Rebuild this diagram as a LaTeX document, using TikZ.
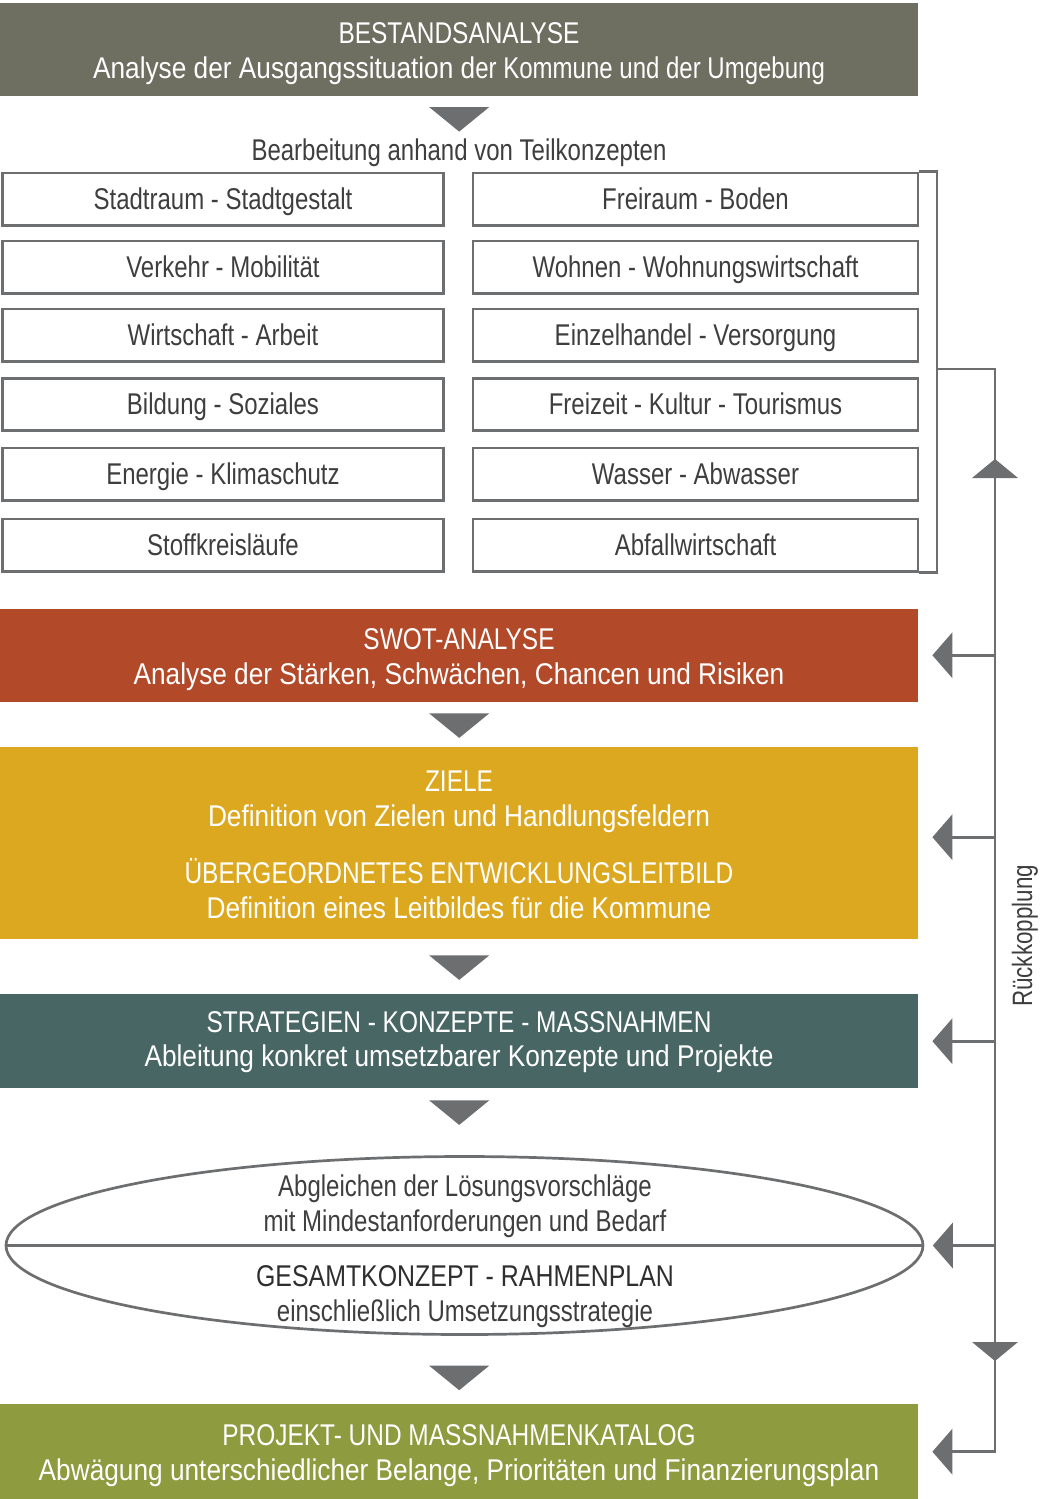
\documentclass[tikz,border=0pt]{standalone}
\usepackage{fontspec}
\setmainfont{Liberation Sans}
\newfontfamily\fgray{Liberation Sans}[FakeStretch=0.80]
\newfontfamily\fcaps{Liberation Sans}[FakeStretch=0.815]
\newfontfamily\fsub{Liberation Sans}[FakeStretch=0.875]
\newfontfamily\fgesamt{Liberation Sans}[FakeStretch=0.83]
\usetikzlibrary{calc,shapes.geometric}
\definecolor{cgraybox}{HTML}{6E6F61}
\definecolor{cred}{HTML}{B24A2A}
\definecolor{cyellow}{HTML}{DCA820}
\definecolor{cteal}{HTML}{476664}
\definecolor{cgreen}{HTML}{8E9B3E}
\definecolor{cline}{HTML}{6D6E70}
\definecolor{ctext}{HTML}{3E3E3E}
\newcommand\fsz{\fontsize{30}{36}\selectfont}
\newcommand\rsz{\fontsize{28}{34}\selectfont}
% downward flow triangle, #1 = centre of its top edge
\newcommand\dtri[1]{\fill[cline] #1 ++(-30,0) -- ++(60,0) -- ++(-30,24.5) -- cycle;}
% left-pointing feedback tip, #1 = tip point
\newcommand\ltri[1]{\fill[cline] #1 -- ++(20,-23) -- ++(0,46) -- cycle;}
\begin{document}
\begin{tikzpicture}[x=1pt,y=-1pt,
  band/.style={rectangle,inner sep=0pt,minimum width=918pt,anchor=north west,draw=none},
  wcap/.style={anchor=base,inner sep=0pt,text=white,font=\fcaps\fsz},
  wsub/.style={anchor=base,inner sep=0pt,text=white,font=\fsub\fsz},
  gtxt/.style={anchor=base,inner sep=0pt,text=ctext,font=\fgray\fsz},
  tk/.style={rectangle,draw=cline,line width=2.7pt,inner sep=0pt,minimum height=52.3pt,text height=21pt,text depth=1pt,text=ctext,font=\fgray\fsz},
  tkl/.style={tk,minimum width=441.3pt},
  tkr/.style={tk,minimum width=445pt},
  ln/.style={draw=cline,line width=2.7pt},
]
\useasboundingbox (0,0) rectangle (1043,1499);

% colored bands
\node[band,fill=cgraybox,minimum height=93.5pt] (bestand) at (0,2.5) {};
\node[band,fill=cred,minimum height=93.5pt] (swot) at (0,608.3) {};
\node[band,fill=cyellow,minimum height=192pt] (ziele) at (0,747) {};
\node[band,fill=cteal,minimum height=94pt] (strat) at (0,994) {};
\node[band,fill=cgreen,minimum height=95pt] (kat) at (0,1404) {};

% band texts
\node[wcap] (bestandA) at (459,43.5) {BESTANDSANALYSE};
\node[wsub] (bestandB) at (459,78) {Analyse der Ausgangssituation d{\fgray er Kommune und der Umgebung}};
\node[gtxt] (bearb) at (459,160) {Bearbeitung anhand von Teilkonzepten};
\node[wcap] (swotA) at (459,649.5) {SWOT-ANALYSE};
\node[wsub] (swotB) at (459,684) {Analyse der Stärken, Schwächen, Chancen und Risiken};
\node[wcap] (zieleA) at (459,791) {ZIELE};
\node[wsub] (zieleB) at (459,826) {Definition von Zielen und Handlungsfeldern};
\node[wcap] (zieleC) at (459,883) {ÜBERGEORDNETES ENTWICKLUNGSLEITBILD};
\node[wsub] (zieleD) at (459,918.5) {Definition eines Leitbildes für die Kommune};
\node[wcap] (stratA) at (459,1032) {STRATEGIEN - KONZEPTE - MASSNAHMEN};
\node[wsub] (stratB) at (459,1066.5) {Ableitung konkret umsetzbarer Konzepte und Projekte};
\node[wcap] (katA) at (459,1445.5) {PROJEKT- UND MASSNAHMENKATALOG};
\node[wsub] (katB) at (459,1480) {Abwägung unterschiedlicher Belange, Prioritäten und Finanzierungsplan};

% Teilkonzepte
\node[tkl] (l1) at (223,199.2) {Stadtraum - Stadtgestalt};
\node[tkl] (l2) at (223,267) {Verkehr - Mobilität};
\node[tkl] (l3) at (223,335) {Wirtschaft - Arbeit};
\node[tkl] (l4) at (223,404.5) {Bildung - Soziales};
\node[tkl] (l5) at (223,474) {Energie - Klimaschutz};
\node[tkl] (l6) at (223,545) {Stoffkreisläufe};
\node[tkr] (r1) at (695.5,199.2) {Freiraum - Boden};
\node[tkr] (r2) at (695.5,267) {Wohnen - Wohnungswirtschaft};
\node[tkr] (r3) at (695.5,335) {Einzelhandel - Versorgung};
\node[tkr] (r4) at (695.5,404.5) {Freizeit - Kultur - Tourismus};
\node[tkr] (r5) at (695.5,474) {Wasser - Abwasser};
\node[tkr] (r6) at (695.5,545) {Abfallwirtschaft};

% ellipse
\node[ellipse,draw=cline,line width=2.7pt,inner sep=0pt,minimum width=917pt,minimum height=178pt] (ell) at (464.5,1245.5) {};
\draw[ln] (ell.west) -- (ell.east);
\node[gtxt] (ellA) at (465,1196.7) {Abgleichen der Lösungsvorschläge};
\node[gtxt] (ellB) at (465,1231.5) {mit Mindestanforderungen und Bedarf};
\node[gtxt,font=\fgesamt\fsz,text=black!82] (ellC) at (465,1286.5) {GESAMTKONZEPT - RAHMENPLAN};
\node[gtxt] (ellD) at (465,1321) {einschließlich Umsetzungsstrategie};

% flow triangles
\dtri{($(bestand.south)+(0,10.7)$)}
\dtri{($(swot.south)+(0,11.2)$)}
\dtri{($(ziele.south)+(0,16)$)}
\dtri{($(strat.south)+(0,12)$)}
\dtri{($(kat.north)+(0,-38.3)$)}

% feedback loop
\coordinate (brk) at (937,369);
\coordinate (fbtop) at (995,369);
\path ([yshift=6pt]ziele.east) coordinate (zE);
\draw[ln] (r1.north east) -- (r1.north east -| brk) -- (r6.south east -| brk) -- (r6.south east);
\draw[ln] (brk) -- (fbtop) -- (fbtop |- kat.east) -- ([xshift=34pt]kat.east);
\draw[ln] (fbtop |- swot.east) -- ([xshift=34pt]swot.east);
\draw[ln] (fbtop |- zE) -- ([xshift=34pt]zE);
\draw[ln] (fbtop |- strat.east) -- ([xshift=34pt]strat.east);
\draw[ln] (fbtop |- ell.east) -- ([xshift=28.5pt]ell.east);
\ltri{([xshift=14pt]kat.east)}
\ltri{([xshift=14pt]swot.east)}
\ltri{([xshift=14pt]zE)}
\ltri{([xshift=14pt]strat.east)}
\ltri{([xshift=8.5pt]ell.east)}
\fill[cline] (995,459) -- (1018,478) -- (972,478) -- cycle;
\fill[cline] (972,1342) -- (1018,1342) -- (995,1361) -- cycle;
\node[gtxt,font=\fgray\rsz,rotate=90] (rk) at (1032,936) {Rückkopplung};
\end{tikzpicture}
\end{document}
